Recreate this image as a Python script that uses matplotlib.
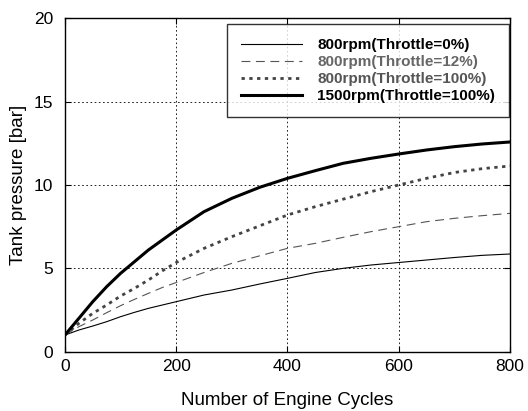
import matplotlib
matplotlib.use("Agg")
import matplotlib.pyplot as plt

plt.rcParams['font.family'] = ['Liberation Sans', 'DejaVu Sans']

cycles = [0, 25, 50, 75, 100, 125, 150, 175, 200, 250, 300, 350, 400,
          450, 500, 550, 600, 650, 700, 750, 800]
p_800_0 = [1.0, 1.3, 1.54, 1.8, 2.1, 2.36, 2.6, 2.8, 3.0, 3.4, 3.7, 4.06, 4.4,
           4.75, 5.0, 5.2, 5.35, 5.5, 5.65, 5.78, 5.86]
p_800_12 = [1.0, 1.5, 1.9, 2.34, 2.76, 3.14, 3.5, 3.85, 4.15, 4.75, 5.3, 5.75, 6.2,
            6.5, 6.86, 7.2, 7.5, 7.8, 8.0, 8.16, 8.3]
p_800_100 = [1.0, 1.7, 2.3, 2.8, 3.34, 3.8, 4.3, 4.85, 5.35, 6.2, 6.9, 7.55, 8.2,
             8.7, 9.15, 9.6, 10.0, 10.4, 10.75, 10.98, 11.14]
p_1500_100 = [1.0, 2.0, 3.0, 3.9, 4.7, 5.4, 6.1, 6.7, 7.3, 8.4, 9.2, 9.86, 10.4,
              10.86, 11.3, 11.6, 11.86, 12.1, 12.3, 12.46, 12.58]

labels = ["800rpm(Throttle=0%)", "800rpm(Throttle=12%)",
          "800rpm(Throttle=100%)", "1500rpm(Throttle=100%)"]
xticks = [0, 200, 400, 600, 800]
yticks = [0, 5, 10, 15, 20]

fig = plt.figure(figsize=(5.28, 4.11), dpi=100)
ax = fig.add_axes([0.123, 0.1443, 0.843, 0.8112])

ax.plot(cycles, p_800_0, color='black', lw=0.8, label=labels[0])
ax.plot(cycles, p_800_12, color='#555555', lw=0.8, dashes=(8, 5), label=labels[1])
ax.plot(cycles, p_800_100, color='#444444', lw=2.0, dashes=(1.2, 1.6), label=labels[2])
ax.plot(cycles, p_1500_100, color='black', lw=2.2, label=labels[3])

ax.set_xlim(0, 800)
ax.set_ylim(0, 20)
ax.set_xticks(xticks)
ax.set_yticks(yticks)
ax.tick_params(direction='in', length=4, labelsize=12.5, top=True, right=True)
ax.tick_params(axis='y', pad=8.5)
ax.tick_params(axis='x', pad=5)
ax.grid(True, color='black', linestyle=(0, (2, 3)), linewidth=0.6)
for s in ax.spines.values():
    s.set_linewidth(1.0)

ax.set_xlabel("Number of Engine Cycles", fontsize=13.5, labelpad=13)
ax.set_ylabel("Tank pressure [bar]", fontsize=13.5, labelpad=5)

leg = ax.legend(loc='upper right', frameon=True, fancybox=False,
                edgecolor='black', handlelength=4.0, handletextpad=1.0,
                borderpad=0.9, labelspacing=0.2,
                prop={'weight': 'bold', 'size': 11},
                bbox_to_anchor=(0.997, 0.982), borderaxespad=0.0)
leg.get_frame().set_linewidth(1.0)
txt_colors = ['black', '#666666', '#555555', 'black']
for t, c in zip(leg.get_texts(), txt_colors):
    t.set_color(c)

fig.savefig("out.png", dpi=100)
